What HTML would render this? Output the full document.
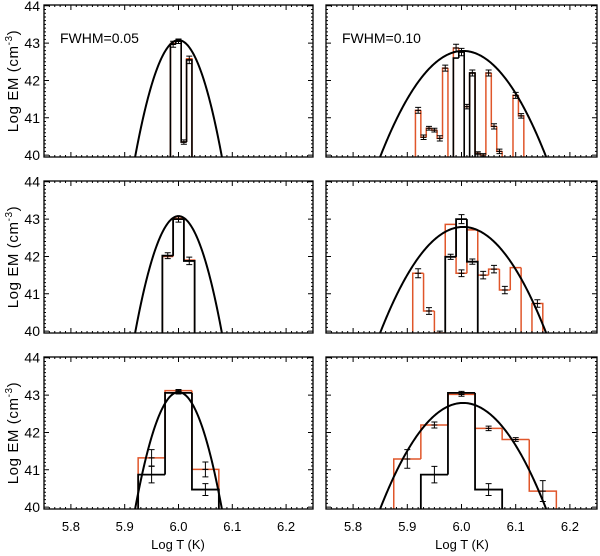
<!DOCTYPE html>
<html><head><meta charset="utf-8"><style>
body{margin:0;background:#fff;}
svg{display:block;font-family:"Liberation Sans","DejaVu Sans",sans-serif;}
</style></head><body>
<svg id="c" width="600" height="556" viewBox="0 0 600 556"></svg>
<script>
// ---------- data ----------
const xTicks = [5.8, 5.9, 6.0, 6.1, 6.2];
const xTickLabels = ["5.8", "5.9", "6.0", "6.1", "6.2"];
const yTicks = [40, 41, 42, 43, 44];
const yTickLabels = ["40", "41", "42", "43", "44"];
// model curves: peak, centre, curvature
const curveLeft = [43.08, 6.0, 481];
const curveRight = [42.79, 6.003, 121];
// panel 1 (top-left), bin width 0.01
const p1Centers = [5.99, 6.00, 6.01, 6.02];
const p1Black = [42.97, 43.05, 40.35, 42.55];
const p1Orange = [42.99, 43.05, 40.35, 42.58];
const p1Err = [0.08, 0.06, 0.06, 0.1];
// panel 2 (top-right), bin width 0.01
const p2Centers = [5.92,5.93,5.94,5.95,5.96,5.97,5.98,5.99,6.00,6.01,6.02,6.03,6.04,6.05,6.06,6.07,6.08,6.09,6.10,6.11];
const p2Orange = [41.2,40.48,40.72,40.67,40.45,42.33,39.9,42.87,42.76,41.3,42.2,40.05,40.0,42.2,40.77,40.1,39.9,39.9,41.6,41.05];
const p2Err = [0.08,0.06,0.05,0.05,0.07,0.08,0,0.1,0.1,0.06,0.08,0.04,0.04,0.08,0.07,0.06,0,0,0.08,0.06];
const p2BlackCenters = [5.99, 6.00, 6.01, 6.02];
const p2Black = [42.6, 42.76, 39.9, 42.2];
// panel 3 (middle-left), bin width 0.02
const p3Centers = [5.98, 6.00, 6.02];
const p3Black = [42.02, 43.0, 41.88];
const p3Orange = [42.0, 43.02, 41.9];
const p3Err = [0.08, 0.08, 0.1];
// panel 4 (middle-right), bin width 0.02
const p4Centers = [5.92,5.94,5.96,5.98,6.00,6.02,6.04,6.06,6.08,6.10,6.12,6.14];
const p4Orange = [41.55,40.54,39.95,42.86,41.55,42.71,41.5,41.66,41.1,41.7,39.9,40.74];
const p4Err = [0.12,0.09,0.05,0,0.09,0,0.1,0.1,0.1,0,0,0.1];
const p4BlackCenters = [5.98, 6.00, 6.02];
const p4Black = [41.99, 43.0, 41.86];
const p4BlackErr = [0.07, 0.12, 0.07];
// panel 5 (bottom-left), bin width 0.05
const p5Centers = [5.95, 6.00, 6.05];
const p5Black = [40.87, 43.06, 40.47];
const p5Orange = [41.32, 43.12, 41.01];
const p5BlackErr = [0.22, 0.03, 0.16];
const p5OrangeErr = [0.22, 0.03, 0.2];
// panel 6 (bottom-right), bin width 0.05
const p6Centers = [5.90, 5.95, 6.00, 6.05, 6.10, 6.15];
const p6Orange = [41.29, 42.2, 43.02, 42.11, 41.81, 40.43];
const p6OrangeErr = [0.25, 0.08, 0.05, 0.06, 0.05, 0.28];
const p6BlackCenters = [5.95, 6.00, 6.05];
const p6Black = [40.87, 43.06, 40.47];
const p6BlackErr = [0.22, 0.04, 0.16];

// ---------- layout ----------
const NS = "http://www.w3.org/2000/svg";
const svg = document.getElementById('c');
const ORANGE = "#e0562a";
const XMIN = 5.75, XMAX = 6.25, YMIN = 39.95, YMAX = 44.02;
const cols = [[44, 313], [326, 597]];
const rows = [[5, 157], [181, 333], [357, 509]];

function mk(tag, attrs, parent) {
  const e = document.createElementNS(NS, tag);
  for (const k in attrs) e.setAttribute(k, attrs[k]);
  (parent || svg).appendChild(e);
  return e;
}

function makePanel(ci, ri, name) {
  const [x0, x1] = cols[ci], [y0, y1] = rows[ri];
  const sx = v => x0 + (v - XMIN) / (XMAX - XMIN) * (x1 - x0);
  const sy = v => y1 - (v - YMIN) / (YMAX - YMIN) * (y1 - y0);
  const g = mk('g', {});
  
  
  const clipId = 'clip' + ci + ri;
  const cp = mk('clipPath', {id: clipId}, g);
  mk('rect', {x: x0, y: y0, width: x1 - x0, height: y1 - y0}, cp);
  const plot = mk('g', {'clip-path': 'url(#' + clipId + ')'}, g);
  return {g, plot, sx, sy, x0, x1, y0, y1};
}

function drawAxes(P, showY, showX) {
  const {g, sx, sy, x0, x1, y0, y1} = P;
  let d = '';
  for (let i = 0; i <= 50; i++) {
    const v = XMIN + i * 0.01; const x = sx(v);
    const major = Math.abs(Math.round(v * 10) - v * 10) < 1e-6;
    const L = major ? 5 : 2;
    d += `M${x},${y1}v${-L}M${x},${y0}v${L}`;
  }
  for (let v = 40; v <= 44.001; v += 0.1) {
    const y = sy(v);
    const major = Math.abs(Math.round(v) - v) < 1e-6;
    const L = major ? 5 : 2;
    d += `M${x0},${y}h${L}M${x1},${y}h${-L}`;
  }
  const t = mk('path', {d, stroke: '#000', 'stroke-width': 1, fill: 'none'}, g);
  
  
  const fr = mk('rect', {x: x0, y: y0, width: x1 - x0, height: y1 - y0, fill: 'none', stroke: '#000', 'stroke-width': 1.3}, g);
  
  
  if (showY) {
    yTicks.forEach((v, i) => {
      const tx = mk('text', {x: x0 - 4, y: sy(v) + 5, 'text-anchor': 'end', 'font-size': 14}, g);
      tx.textContent = yTickLabels[i];
      
      
    });
  }
  if (showX) {
    xTicks.forEach((v, i) => {
      const tx = mk('text', {x: sx(v), y: y1 + 22, 'text-anchor': 'middle', 'font-size': 13}, g);
      tx.textContent = xTickLabels[i];
      
      
    });
  }
}

function drawCurve(P, c) {
  const [pk, cen, a] = c; let d = '';
  for (let i = 0; i <= 300; i++) {
    const v = XMIN + i * (XMAX - XMIN) / 300;
    const e = pk - a * (v - cen) * (v - cen);
    d += (i ? 'L' : 'M') + P.sx(v).toFixed(2) + ',' + P.sy(Math.max(e, 39)).toFixed(2);
  }
  const p = mk('path', {d, stroke: '#000', 'stroke-width': 2, fill: 'none'}, P.plot);
  
  
}

function drawHist(P, centers, vals, w, color, sw, name) {
  const base = YMIN - 0.5; let d = '';
  centers.forEach((c, i) => {
    const a = P.sx(c - w / 2), b = P.sx(c + w / 2), y = P.sy(vals[i]);
    const prev = i > 0 && Math.abs(centers[i - 1] + w - c) < 1e-6 ? P.sy(vals[i - 1]) : P.sy(base);
    d += `M${a},${prev}L${a},${y}L${b},${y}`;
    const next = i < centers.length - 1 && Math.abs(centers[i + 1] - w - c) < 1e-6;
    if (!next) d += `L${b},${P.sy(base)}`;
  });
  const p = mk('path', {d, stroke: color, 'stroke-width': sw, fill: 'none'}, P.plot);
  
  
}

function drawErr(P, centers, vals, errs, name) {
  let d = '';
  centers.forEach((c, i) => {
    if (!errs[i]) return;
    const x = P.sx(c), yt = P.sy(vals[i] + errs[i]), yb = P.sy(vals[i] - errs[i]);
    d += `M${x},${yt}V${yb}M${x - 3},${yt}h6M${x - 3},${yb}h6M${x - 3},${P.sy(vals[i])}h6`;
  });
  const p = mk('path', {d, stroke: '#000', 'stroke-width': 1, fill: 'none'}, P.plot);
  
  
}

function label(x, y, txt, name, extra) {
  const t = mk('text', Object.assign({x, y, 'font-size': 14}, extra || {}));
  t.textContent = txt;
  
  
  return t;
}

// panel 1
let P = makePanel(0, 0, 'panel-top-left');
drawHist(P, p1Centers, p1Orange, 0.01, ORANGE, 1.5, 'orange-histogram');
drawHist(P, p1Centers, p1Black, 0.01, '#000', 1.6, 'black-histogram');
drawErr(P, p1Centers, p1Black, p1Err, 'error-bars');
drawCurve(P, curveLeft); drawAxes(P, true, false);
label(60, 43, 'FWHM=0.05', 'fwhm-label');
// panel 2
P = makePanel(1, 0, 'panel-top-right');
drawHist(P, p2Centers, p2Orange, 0.01, ORANGE, 1.5, 'orange-histogram');
drawHist(P, p2BlackCenters, p2Black, 0.01, '#000', 1.6, 'black-histogram');
drawErr(P, p2Centers, p2Orange, p2Err, 'error-bars');
drawCurve(P, curveRight); drawAxes(P, false, false);
label(342, 43, 'FWHM=0.10', 'fwhm-label');
// panel 3
P = makePanel(0, 1, 'panel-middle-left');
drawHist(P, p3Centers, p3Orange, 0.02, ORANGE, 1.5, 'orange-histogram');
drawHist(P, p3Centers, p3Black, 0.02, '#000', 1.8, 'black-histogram');
drawErr(P, p3Centers, p3Black, p3Err, 'error-bars');
drawCurve(P, curveLeft); drawAxes(P, true, false);
// panel 4
P = makePanel(1, 1, 'panel-middle-right');
drawHist(P, p4Centers, p4Orange, 0.02, ORANGE, 1.5, 'orange-histogram');
drawHist(P, p4BlackCenters, p4Black, 0.02, '#000', 1.8, 'black-histogram');
drawErr(P, p4Centers, p4Orange, p4Err, 'error-bars');
drawErr(P, p4BlackCenters, p4Black, p4BlackErr, 'black-error-bars');
drawCurve(P, curveRight); drawAxes(P, false, false);
// panel 5
P = makePanel(0, 2, 'panel-bottom-left');
drawHist(P, p5Centers, p5Orange, 0.05, ORANGE, 1.5, 'orange-histogram');
drawHist(P, p5Centers, p5Black, 0.05, '#000', 1.8, 'black-histogram');
drawErr(P, p5Centers, p5Orange, p5OrangeErr, 'error-bars');
drawErr(P, p5Centers, p5Black, p5BlackErr, 'black-error-bars');
drawCurve(P, curveLeft); drawAxes(P, true, true);
// panel 6
P = makePanel(1, 2, 'panel-bottom-right');
drawHist(P, p6Centers, p6Orange, 0.05, ORANGE, 1.5, 'orange-histogram');
drawHist(P, p6BlackCenters, p6Black, 0.05, '#000', 1.8, 'black-histogram');
drawErr(P, p6Centers, p6Orange, p6OrangeErr, 'error-bars');
drawErr(P, p6BlackCenters, p6Black, p6BlackErr, 'black-error-bars');
drawCurve(P, curveRight); drawAxes(P, false, true);

// axis titles
[81, 257, 433].forEach(cy => {
  const t = label(0, 0, '', 'y-axis-title', {'font-size': 15, 'letter-spacing': '0.6', 'text-anchor': 'middle', transform: `translate(18,${cy}) rotate(-90)`});
  t.innerHTML = 'Log  EM  (cm<tspan font-size="10" dy="-6">-3</tspan><tspan dy="6">)</tspan>';
});
label(178, 549, 'Log T (K)', 'x-axis-title', {'text-anchor': 'middle', 'font-size': 13});
label(462, 549, 'Log T (K)', 'x-axis-title', {'text-anchor': 'middle', 'font-size': 13});
</script>
</body></html>
